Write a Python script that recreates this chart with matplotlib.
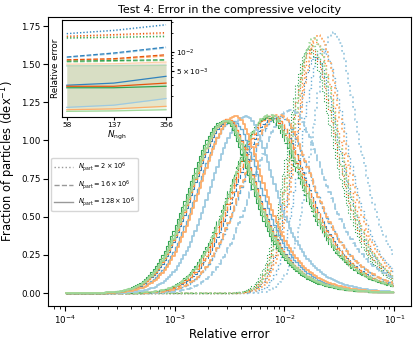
import numpy as np
import matplotlib
matplotlib.use("Agg")
import matplotlib.pyplot as plt
from matplotlib.lines import Line2D

# colour families (kernels) and shades (one per N_ngh: 58, 137, 356)
shades = {
    "blue": ["#3182bd", "#6baed6", "#9ecae1"],
    "orange": ["#e6550d", "#fd8d3c", "#fdae6b"],
    "green": ["#31a354", "#74c476", "#a1d99b"],
}
families = ["blue", "orange", "green"]
n_ngh = [58, 137, 356]
styles = [":", "--", "-"]
part_labels = [r"$N_{\rm part} = 2\times10^6$",
               r"$N_{\rm part} = 16\times10^6$",
               r"$N_{\rm part} = 128\times10^6$"]

# histogram peak positions (relative error)
# [linestyle][family][n_ngh]
peak_pos = {
    ":": {"blue": [1.9e-2, 2.2e-2, 2.8e-2],
          "orange": [1.75e-2, 1.9e-2, 2.05e-2],
          "green": [1.65e-2, 1.75e-2, 1.85e-2]},
    "--": {"blue": [8.0e-3, 9.0e-3, 1.15e-2],
           "orange": [7.4e-3, 7.8e-3, 9.0e-3],
           "green": [7.0e-3, 7.2e-3, 7.4e-3]},
    "-": {"blue": [3.1e-3, 3.4e-3, 4.5e-3],
          "orange": [3.0e-3, 3.05e-3, 3.6e-3],
          "green": [2.8e-3, 2.9e-3, 3.0e-3]},
}
peak_height = {
    ":": {"blue": [1.55, 1.60, 1.71],
          "orange": [1.60, 1.65, 1.69],
          "green": [1.60, 1.63, 1.67]},
    "--": {"blue": [1.15, 1.16, 1.20],
           "orange": [1.16, 1.17, 1.17],
           "green": [1.15, 1.16, 1.17]},
    "-": {"blue": [1.13, 1.13, 1.16],
          "orange": [1.13, 1.14, 1.16],
          "green": [1.13, 1.13, 1.13]},
}
# left / right widths (dex) of each group of histograms
width_left = {":": 0.19, "--": 0.34, "-": 0.32}
width_right = {":": 0.21, "--": 0.29, "-": 0.24}

# inset: median relative error vs N_ngh
inset_med = {
    ":": {"blue": [1.95e-2, 2.2e-2, 2.7e-2],
          "orange": [1.77e-2, 1.88e-2, 2.02e-2],
          "green": [1.67e-2, 1.71e-2, 1.77e-2]},
    "--": {"blue": [8.3e-3, 9.6e-3, 1.19e-2],
           "orange": [7.5e-3, 7.8e-3, 9.0e-3],
           "green": [7.1e-3, 7.3e-3, 7.5e-3]},
    "-": {"blue": [2.96e-3, 3.2e-3, 4.1e-3],
          "orange": [2.85e-3, 2.85e-3, 3.2e-3],
          "green": [2.7e-3, 2.7e-3, 2.85e-3]},
}
inset_alt = {
    ":": {"blue": [1.93e-2, 2.15e-2, 2.65e-2],
          "orange": [1.73e-2, 1.82e-2, 1.95e-2],
          "green": [1.63e-2, 1.68e-2, 1.72e-2]},
    "--": {"blue": [8.1e-3, 9.3e-3, 1.15e-2],
           "orange": [7.3e-3, 7.6e-3, 8.6e-3],
           "green": [6.9e-3, 7.1e-3, 7.3e-3]},
}
inset_low = {"blue": [1.32e-3, 1.43e-3, 1.82e-3],
             "orange": [1.21e-3, 1.25e-3, 1.37e-3],
             "green": [1.14e-3, 1.16e-3, 1.21e-3]}
inset_high = {"blue": [6.0e-3, 6.1e-3, 6.2e-3],
              "orange": [6.4e-3, 6.5e-3, 6.9e-3],
              "green": [6.0e-3, 6.0e-3, 6.1e-3]}

bin_edges = np.logspace(-4, -1, 151)
lc = np.log10(np.sqrt(bin_edges[1:] * bin_edges[:-1]))


def hist_shape(mode, height, wl, wr):
    d = lc - np.log10(mode)
    left = height * np.exp(-0.5 * (d / wl) ** 2)
    right = height / np.cosh(d / wr)
    return np.where(d < 0, left, right)


fig = plt.figure(figsize=(4.15, 3.39), dpi=100)
ax = fig.add_axes([0.116, 0.097, 0.874, 0.853])

for ls in styles:
    for fam in families:
        for i in range(3):
            y = hist_shape(peak_pos[ls][fam][i], peak_height[ls][fam][i],
                           width_left[ls], width_right[ls])
            lw = [0.8, 1.0, 1.3][i]
            ax.step(10 ** lc, y, where="mid", color=shades[fam][i], ls=ls, lw=lw)

ax.set_xscale("log")
ax.set_xlim(10 ** -4.15, 10 ** -0.85)
ax.set_ylim(-0.086, 1.81)
ax.set_yticks([0, 0.25, 0.5, 0.75, 1.0, 1.25, 1.5, 1.75])
ax.tick_params(labelsize=6.3, pad=2)
ax.set_xlabel("Relative error", fontsize=8.5, labelpad=1)
ax.set_ylabel(r"Fraction of particles (dex$^{-1}$)", fontsize=8.3, labelpad=2)
ax.set_title("Test 4: Error in the compressive velocity", fontsize=8, pad=3)

handles = [Line2D([], [], color="0.6", ls=ls, lw=1) for ls in styles]
ax.legend(handles, part_labels, loc="center left", bbox_to_anchor=(0.0, 0.42),
          fontsize=4.8, handlelength=2.8, framealpha=0.8)

# inset
ins = fig.add_axes([0.149, 0.655, 0.263, 0.286])
for fam in families:
    ins.fill_between(n_ngh, inset_low[fam], inset_high[fam],
                     color=shades[fam][2], alpha=0.25, lw=0)
for ls in styles:
    for fam in families:
        if ls in inset_alt:
            ins.plot(n_ngh, inset_alt[ls][fam], color=shades[fam][2], ls=ls, lw=0.9)
        ins.plot(n_ngh, inset_med[ls][fam], color=shades[fam][0], ls=ls, lw=0.9)
for fam in families:
    ins.plot(n_ngh, inset_low[fam], color=shades[fam][2], lw=0.9)
    ins.plot(n_ngh, inset_high[fam], color=shades[fam][2], lw=0.8, alpha=0.6)

ins.set_xscale("log")
ins.set_yscale("log")
ins.set_ylim(9.3e-4, 3.2e-2)
ins.set_xticks(n_ngh, [str(n) for n in n_ngh])
ins.xaxis.set_minor_locator(matplotlib.ticker.NullLocator())
ins.yaxis.tick_right()
ins.set_yticks([5e-3, 1e-2], [r"$5\times10^{-3}$", r"$10^{-2}$"])
ins.yaxis.set_minor_formatter(matplotlib.ticker.NullFormatter())
ins.tick_params(labelsize=5.3, pad=1, length=2.5)
ins.tick_params(which="minor", length=1.5)
ins.set_xlabel(r"$N_{\rm ngh}$", fontsize=6.3, labelpad=1)
ins.set_ylabel("Relative error", fontsize=6.3, labelpad=1)

fig.savefig("out.png", dpi=100)
